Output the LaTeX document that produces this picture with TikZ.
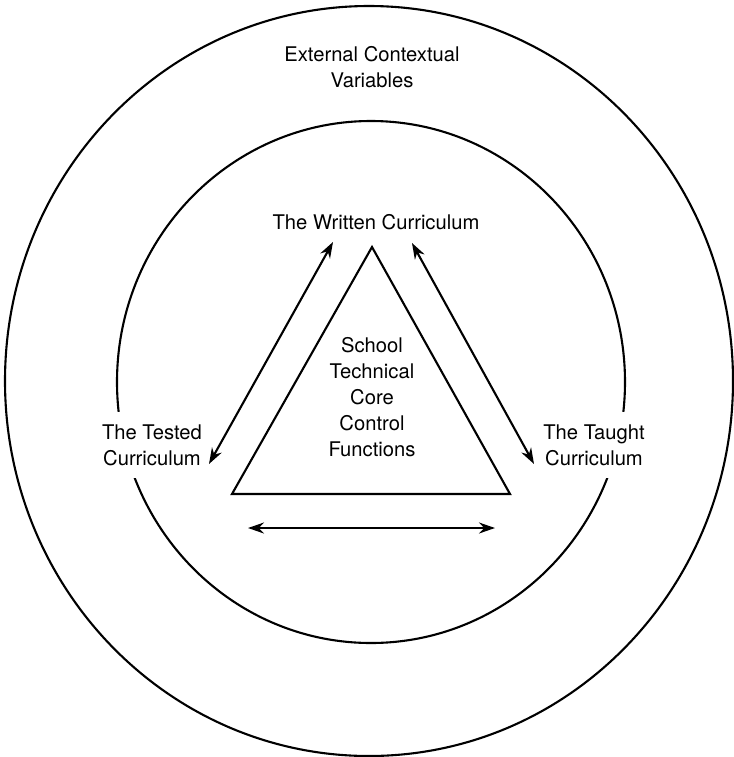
\documentclass[tikz,border=0pt]{standalone}
\usepackage{fontspec}
\setmainfont{TeX Gyre Heros}
\usetikzlibrary{arrows.meta}

\begin{document}
\begin{tikzpicture}[x=0.5pt, y=-0.5pt, line width=1.05pt,
  lbl/.style={align=center, font=\fontsize{10.1}{13}\selectfont},
  gaplbl/.style={lbl, fill=white, inner sep=6pt},
  twoway/.style={{Stealth[length=8pt,width=5.5pt]}-{Stealth[length=8pt,width=5.5pt]}}]
  \useasboundingbox (0,0) rectangle (734,757);

  %rings
  \draw (369,381) ellipse [x radius=364, y radius=375];
  \draw (371,382) ellipse [x radius=254, y radius=261];

  %labels
  \node[lbl] (ext) at (372,67) {External Contextual\\Variables};
  \node[lbl] (written) at (376,222) {The Written Curriculum};
  \node[gaplbl] (tested) at (152,445) {The Tested\\Curriculum};
  \node[gaplbl] (taught) at (594,445) {The Taught\\Curriculum};
  \node[lbl] (core) at (372,397) {School\\Technical\\Core\\Control\\Functions};

  %triangle
  \coordinate (apex) at (372,247);
  \coordinate (left) at (232,494);
  \coordinate (right) at (510,494);
  \draw[line join=miter] (apex) -- (left) -- (right) -- cycle;

  %arrows
  \coordinate (wl) at (333,242);
  \coordinate (tl) at (209,464);
  \coordinate (wr) at (412,243);
  \coordinate (tr) at (534,464);
  \coordinate (bl) at (248,528);
  \coordinate (br) at (495,528);
  \draw[twoway] (wl) -- (tl);
  \draw[twoway] (wr) -- (tr);
  \draw[twoway] (bl) -- (br);
\end{tikzpicture}
\end{document}
